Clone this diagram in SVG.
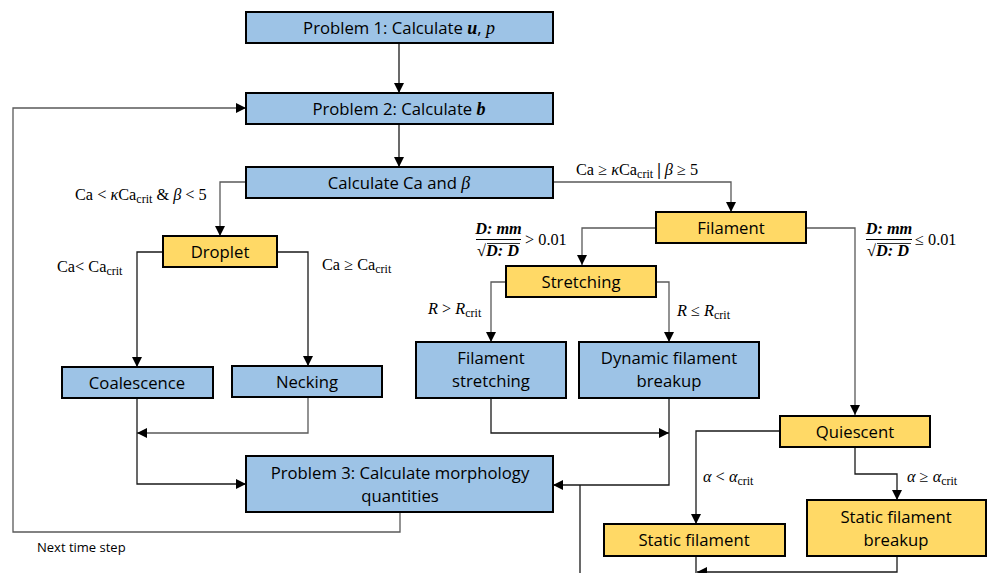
<svg xmlns="http://www.w3.org/2000/svg" width="987" height="573" viewBox="0 0 987 573">
<defs>
<marker id="ah" viewBox="0 0 10 10" refX="10" refY="5" markerWidth="10" markerHeight="10" markerUnits="userSpaceOnUse" orient="auto">
<path d="M0,0 L10,5 L0,10 z" fill="#000"/>
</marker>
<style>
.blue{fill:#9DC3E6;stroke:#000;stroke-width:2}
.yel{fill:#FFD966;stroke:#000;stroke-width:2}
.t{font-family:"Open Sans","Noto Sans","Liberation Sans",sans-serif;font-size:16.7px;fill:#000;text-anchor:middle}
.mt{font-family:"Liberation Serif","DejaVu Serif",serif;font-size:18px}
.m{font-family:"Liberation Serif","DejaVu Serif",serif;font-size:16.3px;fill:#000}
.mi{font-style:italic}
.bi{font-style:italic;font-weight:bold}
.sub{font-size:12px}
.c{fill:none;stroke:#1a1a1a;stroke-width:1.3}
.g{fill:none;stroke:#595959;stroke-width:1.3}
.lbl{font-family:"Open Sans","Noto Sans","Liberation Sans",sans-serif;font-size:13px;fill:#000}
</style>
</defs>
<rect width="987" height="573" fill="#fff"/>

<g id="connectors">
<path class="c" d="M399,43 V93" marker-end="url(#ah)"/>
<path class="c" d="M399,124 V167" marker-end="url(#ah)"/>
<path class="g" d="M246,182 H220 V236" marker-end="url(#ah)"/>
<path class="g" d="M553,182 H731 V212" marker-end="url(#ah)"/>
<path class="g" d="M656,228 H582 V265" marker-end="url(#ah)"/>
<path class="g" d="M806,228 H855 V415" marker-end="url(#ah)"/>
<path class="c" d="M163,252 H137 V367" marker-end="url(#ah)"/>
<path class="c" d="M277,252 H308 V366" marker-end="url(#ah)"/>
<path class="g" d="M506,282 H491 V342" marker-end="url(#ah)"/>
<path class="g" d="M656,282 H669 V342" marker-end="url(#ah)"/>
<path class="g" d="M308,397 V433 H137" marker-end="url(#ah)"/>
<path class="c" d="M137,398 V484 H246" marker-end="url(#ah)"/>
<path class="c" d="M491,398 V433 H669" marker-end="url(#ah)"/>
<path class="c" d="M669,398 V485 H553" marker-end="url(#ah)"/>
<path class="c" d="M580,485 V573"/>
<path class="c" d="M780,431 H696 V524" marker-end="url(#ah)"/>
<path class="c" d="M855,447 V474 H897 V500" marker-end="url(#ah)"/>
<path class="c" d="M696,556 V573"/>
<path class="c" d="M897,556 V572 H697" marker-end="url(#ah)"/>
<path class="g" d="M400,512 V532 H13 V108 H246" marker-end="url(#ah)"/>
</g>

<g id="labels">
<text class="m" x="75" y="200">Ca &lt; <tspan class="mi">κ</tspan>Ca<tspan class="sub" dy="3">crit</tspan><tspan dy="-3"> &amp; </tspan><tspan class="mi">β</tspan> &lt; 5</text>
<text class="m" x="576" y="175">Ca ≥ <tspan class="mi">κ</tspan>Ca<tspan class="sub" dy="3">crit</tspan><tspan dy="-3" font-weight="bold"> | </tspan><tspan class="mi">β</tspan> ≥ 5</text>
<text class="m" x="57" y="272">Ca&lt; Ca<tspan class="sub" dy="3">crit</tspan></text>
<text class="m" x="322" y="270">Ca ≥ Ca<tspan class="sub" dy="3">crit</tspan></text>
<text class="m" x="428" y="314"><tspan class="mi">R</tspan> &gt; <tspan class="mi">R</tspan><tspan class="sub" dy="3">crit</tspan></text>
<text class="m" x="677" y="316"><tspan class="mi">R</tspan> ≤ <tspan class="mi">R</tspan><tspan class="sub" dy="3">crit</tspan></text>
<text class="m" x="703" y="482"><tspan class="mi">α</tspan> &lt; <tspan class="mi">α</tspan><tspan class="sub" dy="3">crit</tspan></text>
<text class="m" x="907" y="482"><tspan class="mi">α</tspan> ≥ <tspan class="mi">α</tspan><tspan class="sub" dy="3">crit</tspan></text>
<g id="frac-left">
<text class="m bi" x="498.5" y="234" text-anchor="middle">D: mm</text>
<line x1="476" y1="239.5" x2="521" y2="239.5" stroke="#000" stroke-width="1"/>
<text class="m" x="477" y="256">√<tspan class="bi">D: D</tspan></text>
<line x1="487" y1="243.5" x2="520" y2="243.5" stroke="#000" stroke-width="0.8"/>
<text class="m" x="525" y="245">&gt; 0.01</text>
</g>
<g id="frac-right">
<text class="m bi" x="889" y="234" text-anchor="middle">D: mm</text>
<line x1="866" y1="239.5" x2="912" y2="239.5" stroke="#000" stroke-width="1"/>
<text class="m" x="867" y="256">√<tspan class="bi">D: D</tspan></text>
<line x1="877" y1="243.5" x2="911" y2="243.5" stroke="#000" stroke-width="0.8"/>
<text class="m" x="915" y="245">≤ 0.01</text>
</g>
<text class="lbl" x="37" y="552">Next time step</text>
</g>

<g id="p1"><rect class="blue" x="246" y="12" width="307" height="31"/>
<text class="t" x="399" y="33.5">Problem 1: Calculate <tspan class="mt bi">u</tspan>, <tspan class="mt mi">p</tspan></text></g>
<g id="p2"><rect class="blue" x="246" y="93" width="307" height="31"/>
<text class="t" x="399" y="114.5">Problem 2: Calculate <tspan class="mt bi">b</tspan></text></g>
<g id="calc"><rect class="blue" x="246" y="167" width="307" height="31"/>
<text class="t" x="399" y="188.5">Calculate Ca and <tspan class="mt mi">β</tspan></text></g>
<g id="droplet"><rect class="yel" x="163" y="236" width="114" height="31"/>
<text class="t" x="220" y="257.5">Droplet</text></g>
<g id="filament"><rect class="yel" x="656" y="212" width="150" height="31"/>
<text class="t" x="731" y="233.5">Filament</text></g>
<g id="stretching"><rect class="yel" x="506" y="266" width="150" height="31"/>
<text class="t" x="581" y="287.5">Stretching</text></g>
<g id="filstretch"><rect class="blue" x="416" y="342" width="150" height="56"/>
<text class="t" x="491" y="364">Filament</text><text class="t" x="491" y="387">stretching</text></g>
<g id="dynbreak"><rect class="blue" x="579" y="342" width="180" height="56"/>
<text class="t" x="669" y="364">Dynamic filament</text><text class="t" x="669" y="387">breakup</text></g>
<g id="coal"><rect class="blue" x="62" y="367" width="151" height="31"/>
<text class="t" x="137" y="388.5">Coalescence</text></g>
<g id="necking"><rect class="blue" x="232" y="366" width="150" height="31"/>
<text class="t" x="307" y="387.5">Necking</text></g>
<g id="p3"><rect class="blue" x="246" y="456" width="307" height="56"/>
<text class="t" x="400" y="479">Problem 3: Calculate morphology</text><text class="t" x="400" y="502">quantities</text></g>
<g id="quiescent"><rect class="yel" x="780" y="416" width="150" height="31"/>
<text class="t" x="855" y="437.5">Quiescent</text></g>
<g id="staticfil"><rect class="yel" x="604" y="524" width="181" height="32"/>
<text class="t" x="694" y="546">Static filament</text></g>
<g id="staticbreak"><rect class="yel" x="807" y="500" width="179" height="56"/>
<text class="t" x="896" y="523">Static filament</text><text class="t" x="896" y="546">breakup</text></g>
</svg>
